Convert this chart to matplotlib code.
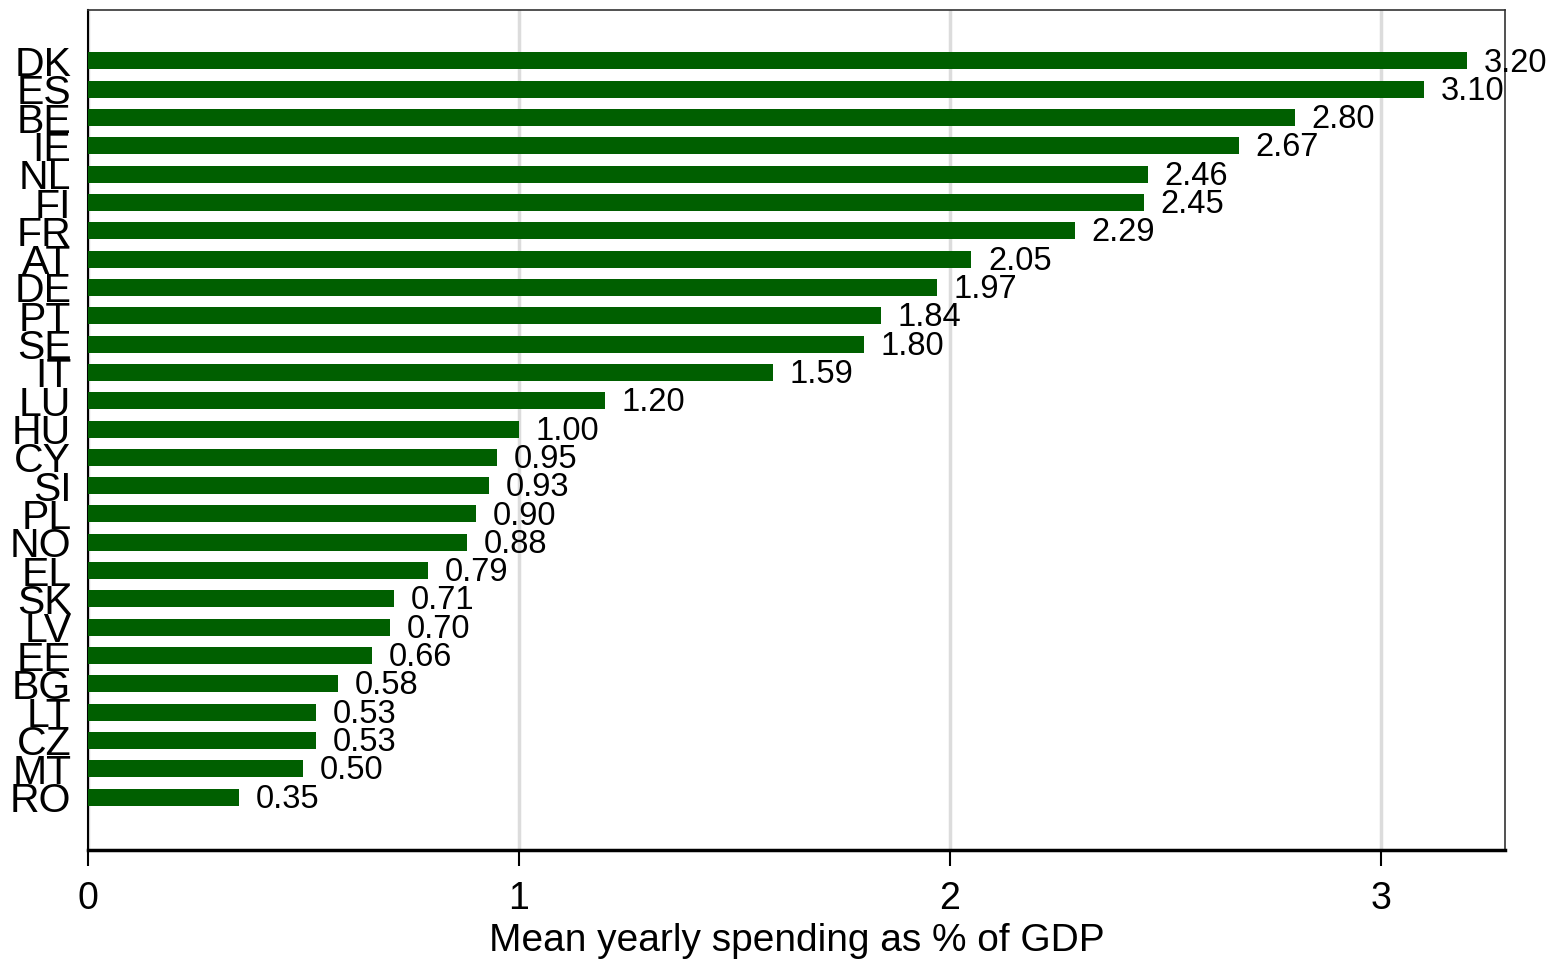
import matplotlib.pyplot as plt

# country codes, top to bottom as shown
countries = ['DK', 'ES', 'BE', 'IE', 'NL', 'FI', 'FR', 'AT', 'DE', 'PT', 'SE', 'IT', 'LU',
             'HU', 'CY', 'SI', 'PL', 'NO', 'EL', 'SK', 'LV', 'EE', 'BG', 'LT', 'CZ', 'MT', 'RO']
spending = [3.20, 3.10, 2.80, 2.67, 2.46, 2.45, 2.29, 2.05, 1.97, 1.84, 1.80, 1.59, 1.20,
            1.00, 0.95, 0.93, 0.90, 0.88, 0.79, 0.71, 0.70, 0.66, 0.58, 0.53, 0.53, 0.50, 0.35]
x_ticks = [0, 1, 2, 3]

plt.rcParams['font.family'] = ['Liberation Sans', 'DejaVu Sans']

fig = plt.figure(figsize=(15.54, 9.59), dpi=100)
ax = fig.add_axes([88 / 1554, 1 - 850 / 959, (1505 - 88) / 1554, (850 - 10) / 959])

n = len(countries)
pos = [n - 1 - i for i in range(n)]
ax.barh(pos, spending, height=0.6, color='#005f00', zorder=3)

for p, v in zip(pos, spending):
    ax.annotate('%.2f' % v, xy=(v, p), xytext=(12, -1.5), textcoords='offset points',
                ha='left', va='center', fontsize=23.5, color='black', zorder=4)

ax.set_xlim(0, 3.288)
ax.set_ylim(-1.87, n - 1 + 1.8)
ax.set_yticks(pos)
ax.set_yticklabels(countries, fontsize=29.5)
ax.tick_params(axis='y', length=0, pad=12)
ax.set_xticks(x_ticks)
ax.set_xticklabels([str(t) for t in x_ticks], fontsize=27)
ax.tick_params(axis='x', length=11.5, width=1.5, pad=11)
ax.set_xlabel('Mean yearly spending as % of GDP', fontsize=28, labelpad=4)

ax.grid(axis='x', color='#dcdcdc', linewidth=2.5, zorder=0)
ax.set_axisbelow(True)
ax.spines['left'].set_linewidth(1.5)
ax.spines['bottom'].set_linewidth(2.5)
ax.spines['top'].set_linewidth(1.2)
ax.spines['right'].set_linewidth(1.2)
ax.spines['top'].set_color('#333333')
ax.spines['right'].set_color('#333333')

fig.savefig('out.png', dpi=100)
